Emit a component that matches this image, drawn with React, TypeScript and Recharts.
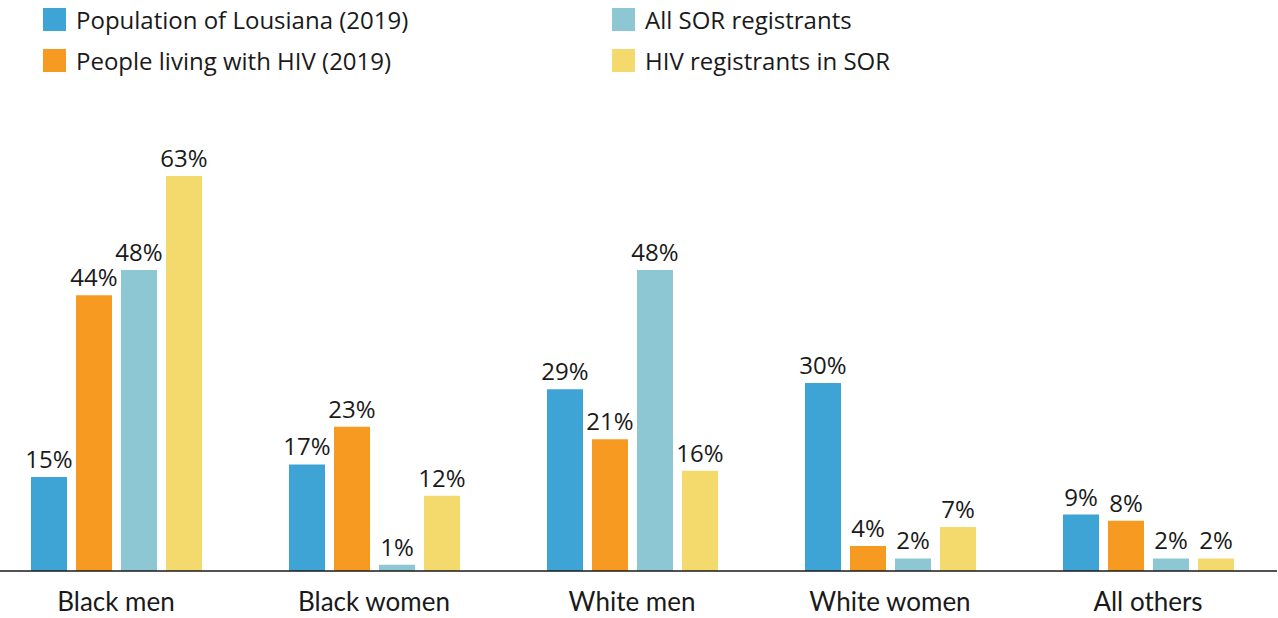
import { BarChart, Bar, XAxis, YAxis, Legend, LabelList } from 'recharts'

const categories = ['Black men', 'Black women', 'White men', 'White women', 'All others']
const population = [15, 17, 29, 30, 9]
const hivLiving = [44, 23, 21, 4, 8]
const sorAll = [48, 1, 48, 2, 2]
const sorHiv = [63, 12, 16, 7, 2]

const seriesInfo = [
  { key: 'population', name: 'Population of Lousiana (2019)', color: '#3ea4d5' },
  { key: 'hivLiving', name: 'People living with HIV (2019)', color: '#f79a22' },
  { key: 'sorAll', name: 'All SOR registrants', color: '#8cc7d3' },
  { key: 'sorHiv', name: 'HIV registrants in SOR', color: '#f4d96d' },
]

const data = categories.map((c, i) => ({
  category: c,
  population: population[i],
  hivLiving: hivLiving[i],
  sorAll: sorAll[i],
  sorHiv: sorHiv[i],
}))

const legendFont = '"Open Sans", "Noto Sans", sans-serif'

function LegendBox() {
  // two columns, two rows
  const spots = [
    { left: 56, top: 8 },
    { left: 56, top: 49 },
    { left: 625, top: 8 },
    { left: 625, top: 49 },
  ]
  return (
    <div style={{ position: 'relative', width: 1290, height: 80 }}>
      {seriesInfo.map((s, i) => (
        <div
          key={s.key}
          style={{
            position: 'absolute',
            left: spots[i].left,
            top: spots[i].top,
            display: 'flex',
            alignItems: 'center',
            height: 23,
            fontFamily: legendFont,
            fontSize: 24,
            color: '#1a1a1a',
            whiteSpace: 'nowrap',
          }}
        >
          <span style={{ width: 23, height: 23, background: s.color, marginRight: 10, display: 'inline-block' }} />
          {s.name}
        </div>
      ))}
    </div>
  )
}

export default function App() {
  return (
    <div style={{ position: 'absolute', left: -13, top: 0 }}>
      <BarChart
        width={1290}
        height={618}
        data={data}
        margin={{ top: 96, right: 0, bottom: 0, left: 0 }}
        barGap={9}
      >
        <Legend verticalAlign="top" align="left" content={() => <LegendBox />} wrapperStyle={{ left: 0, top: 0 }} />
        <XAxis
          dataKey="category"
          height={47}
          tickLine={false}
          tickSize={0}
          tickMargin={22}
          axisLine={{ stroke: '#1a1a1a', strokeWidth: 1.5 }}
          tick={{ fontSize: 26, fill: '#1a1a1a', fontFamily: 'Lato, sans-serif' }}
        />
        <YAxis hide domain={[0, 63]} />
        {seriesInfo.map(s => (
          <Bar key={s.key} dataKey={s.key} name={s.name} fill={s.color} barSize={36} isAnimationActive={false}>
            <LabelList
              dataKey={s.key}
              position="top"
              offset={9}
              formatter={(v: any) => `${v}%`}
              style={{ fontSize: 24, fill: '#1a1a1a', fontFamily: legendFont }}
            />
          </Bar>
        ))}
      </BarChart>
    </div>
  )
}
